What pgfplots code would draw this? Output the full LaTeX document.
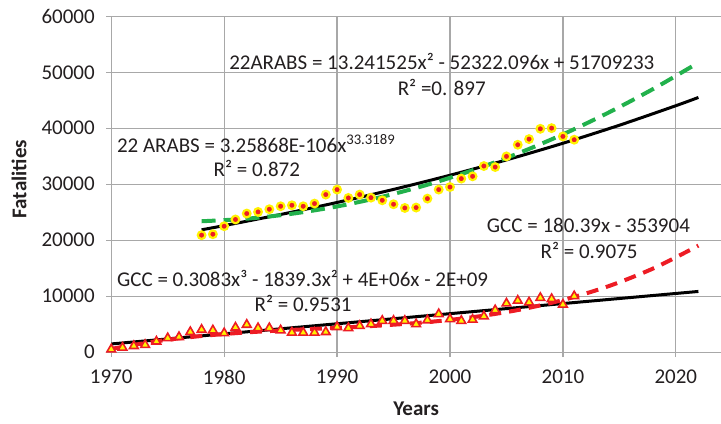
\documentclass[border=0pt]{standalone}
\usepackage{fontspec}
\setmainfont{Carlito}
\usepackage{pgfplots}
\pgfplotsset{compat=1.18}
\usepackage{pgfplotstable}
\definecolor{gridgray}{RGB}{168,168,168}
\definecolor{myred}{RGB}{237,28,36}
\definecolor{myyellow}{RGB}{255,242,0}
\definecolor{mygreen}{RGB}{34,177,76}
\definecolor{txt}{RGB}{35,31,32}
\pgfplotstableread{
year val
1978 20900
1979 21070
1980 22500
1981 23700
1982 24760
1983 25050
1984 25530
1985 26060
1986 26240
1987 26060
1988 26540
1989 28150
1990 29040
1991 27550
1992 28150
1993 27600
1994 27130
1995 26420
1996 25760
1997 25830
1998 27430
1999 29040
2000 29500
2001 31000
2002 31410
2003 33250
2004 33070
2005 34970
2006 37050
2007 38060
2008 39900
2009 40020
2010 38540
2011 37950
}\arabs
\pgfplotstableread{
year val
1970 500
1971 800
1972 1100
1973 1300
1974 1900
1975 2500
1976 2700
1977 3600
1978 4000
1979 3900
1980 3400
1981 4400
1982 4900
1983 4300
1984 4300
1985 3900
1986 3500
1987 3500
1988 3500
1989 3600
1990 4500
1991 4300
1992 4700
1993 5000
1994 5600
1995 5600
1996 5600
1997 5000
1998 5700
1999 6800
2000 5900
2001 5600
2002 5800
2003 6400
2004 7500
2005 8700
2006 9200
2007 8900
2008 9700
2009 9500
2010 8500
2011 10000
}\gcc
\begin{document}
\begin{tikzpicture}
\begin{axis}[
  name=ax,
  scale only axis, width=610pt, height=336pt,
  xmin=1970, xmax=2024, ymin=0, ymax=60000,
  xtick={1970,1980,1990,2000,2010,2020},
  ytick={0,10000,20000,30000,40000,50000,60000},
  scaled y ticks=false,
  axis lines*=left,
  axis line style={gridgray, line width=1.2pt},
  grid=major, major grid style={gridgray, line width=1.2pt},
  tick style={gridgray, line width=1.2pt},
  tick align=outside, major tick length=5pt,
  /pgf/number format/assume math mode=true,
  /pgf/number format/1000 sep={},
  ticklabel style={font=\fontsize{21}{25}\selectfont, text=txt},
  yticklabel style={xshift=-8pt},
  xticklabel style={yshift=-9pt},
  xlabel={Years}, ylabel={Fatalities},
  label style={font=\bfseries\fontsize{21}{25}\selectfont, text=txt},
  xlabel style={at={(axis description cs:0.5,-0.17)}, anchor=center},
  ylabel style={at={(axis description cs:-0.151,0.515)}, anchor=center},
]
\addplot[only marks, mark=*, mark size=3.8pt, mark options={fill=myred, draw=myyellow, line width=2.2pt}] table[x=year,y=val] {\arabs};
\addplot[only marks, mark=triangle*, mark size=5pt, mark options={fill=myyellow, draw=myred, line width=1.6pt}] table[x=year,y=val] {\gcc};
% power trend ARABS
\addplot[black, line width=3pt, smooth] coordinates {(1978,21861) (1980,22609) (1985,24593) (1990,26742) (1995,29074) (2000,31603) (2005,34345) (2010,37317) (2015,40538) (2020,44023) (2022,45502)};
% polynomial trend ARABS
\addplot[mygreen, line width=4pt, dash pattern=on 14pt off 8pt, smooth] coordinates {(1978,23382) (1982,23840) (1986,24721) (1990,26027) (1994,27755) (1998,29908) (2002,32484) (2006,35484) (2010,38908) (2014,42755) (2018,47027) (2022,51721)};
% linear trend GCC
\addplot[black, line width=3pt] coordinates {(1970,1464) (2022,10845)};
% cubic trend GCC
\addplot[myred, line width=4pt, dash pattern=on 12pt off 8pt, smooth] coordinates {(1970,584) (1974,1951) (1978,2893) (1982,3528) (1986,3974) (1990,4350) (1994,4774) (1998,5364) (2002,6239) (2006,7517) (2010,9316) (2014,11756) (2018,14954) (2022,19028)};
\begin{scope}[every node/.style={font=\fontsize{21}{25}\selectfont, text=txt, inner sep=0pt}]
\node at (axis cs:1999.27,51950) {22ARABS = 13.241525x² - 52322.096x + 51709233};
\node at (axis cs:1999.27,47320) {R² =0. 897};
\node at (axis cs:1982.83,37235) {22 ARABS = 3.25868E-106x\textsuperscript{33.3189}};
\node at (axis cs:1982.89,32780) {R² = 0.872};
\node at (axis cs:2012.26,22680) {GCC = 180.39x - 353904};
\node at (axis cs:2012.32,18225) {R² = 0.9075};
\node at (axis cs:1986.95,13180) {GCC = 0.3083x³ - 1839.3x² + 4E+06x - 2E+09};
\node at (axis cs:1986.99,8730) {R² = 0.9531};
\end{scope}
\end{axis}
\pgfresetboundingbox
\path ([xshift=-111.3pt,yshift=-71.7pt]ax.south west) rectangle ([yshift=16.3pt]ax.north east);
\end{tikzpicture}
\end{document}
